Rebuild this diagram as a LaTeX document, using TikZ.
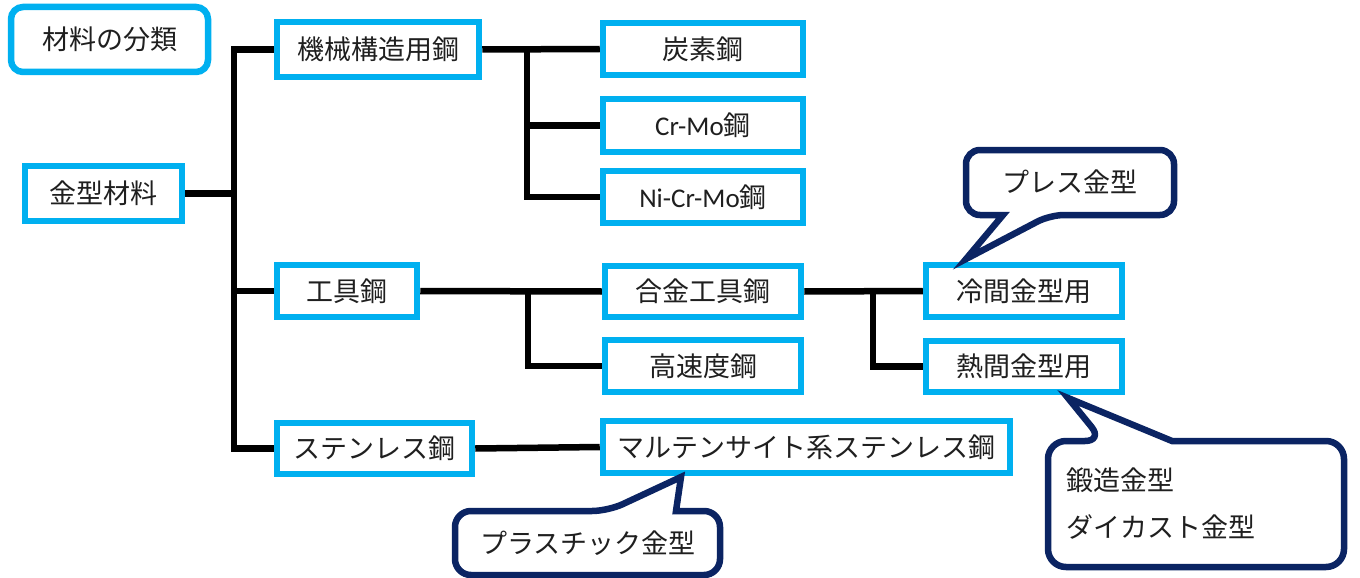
\documentclass[tikz,border=0pt]{standalone}
\usepackage{fontspec}
\setmainfont{Noto Sans CJK JP}
\newfontfamily\lat{Carlito}
\usetikzlibrary{backgrounds}
\definecolor{boxblue}{HTML}{00B0F0}
\definecolor{navy}{HTML}{0B2463}
\begin{document}
\begin{tikzpicture}[x=1pt,y=-1pt,
  box/.style={draw=boxblue,line width=6.5pt,fill=white,rectangle,inner sep=0pt,
    font=\fontsize{27}{32}\selectfont,text=black!88},
  conn/.style={line width=6.5pt,black},
  callout/.style={draw=navy,line width=6.5pt,fill=white,line join=miter},
  ctext/.style={inner sep=0pt,font=\fontsize{27}{32}\selectfont,text=black!88}]
\useasboundingbox (0,0) rectangle (1360,578);
% boxes
\node[box,minimum width=197pt,minimum height=65pt,rounded corners=12pt] (cls) at (109.5,39.5) {材料の分類};
\node[box,minimum width=157pt,minimum height=55pt] (kin) at (103.5,193.5) {金型材料};
\node[box,minimum width=202pt,minimum height=55pt] (kik) at (378,49.5) {機械構造用鋼};
\node[box,minimum width=200pt,minimum height=52pt] (tan) at (703,49) {炭素鋼};
\node[box,minimum width=200pt,minimum height=53pt] (crm) at (703,125.5) {{\lat Cr-Mo}鋼};
\node[box,minimum width=200pt,minimum height=52pt] (ncm) at (703,197) {{\lat Ni-Cr-Mo}鋼};
\node[box,minimum width=140pt,minimum height=52pt] (kog) at (347,291) {工具鋼};
\node[box,minimum width=196pt,minimum height=51pt] (gok) at (703,291.5) {合金工具鋼};
\node[box,minimum width=196pt,minimum height=52pt] (kos) at (703,366) {高速度鋼};
\node[box,minimum width=196pt,minimum height=52pt] (rei) at (1024,291) {冷間金型用};
\node[box,minimum width=196pt,minimum height=51pt] (net) at (1024,366.5) {熱間金型用};
\node[box,minimum width=195pt,minimum height=51pt] (sus) at (374.5,448.5) {ステンレス鋼};
\node[box,minimum width=407pt,minimum height=52pt] (mar) at (806.5,447) {マルテンサイト系ステンレス鋼};
% junction coordinates
\coordinate (tr) at (234,0);
\coordinate (j1) at (527,49.5);
\coordinate (j2) at (528,291);
\coordinate (j3) at (873,292);
\begin{scope}[on background layer]
\draw[conn] (kik.west) -| (tr |- sus.west) -- (sus.west);
\draw[conn] (kin.east) -- (tr |- kin.east);
\draw[conn] (kog.west) -- (tr |- kog.west);
\draw[conn] (kik.east) -- (tan.west);
\draw[conn] (j1) |- (ncm.west);
\draw[conn] (j1 |- crm.west) -- (crm.west);
\draw[conn] (kog.east) -- (gok.west);
\draw[conn] (j2) |- (kos.west);
\draw[conn] (gok.east) -- (rei.west);
\draw[conn] (j3) |- (net.west);
\draw[conn] (sus.east) -- (mar.west);
\end{scope}
% callouts
\draw[callout] (1070,150) [rounded corners=14pt] -- (1174,150) -- (1174,215) -- (1050,215) [sharp corners] -- (966,259) -- (1003,215) [rounded corners=14pt] -- (966,215) -- (966,150) -- cycle;
\node[ctext] (press) at (1070,182) {プレス金型};
\draw[callout] (1250,441) [rounded corners=18pt] -- (1344,441) -- (1344,567) -- (1048,567) -- (1048,441) -- (1103,441) [sharp corners] -- (1068,398) -- (1172,441) [rounded corners=18pt] -- cycle;
\node[ctext,anchor=west] (hot1) at (1066,480) {鍛造金型};
\node[ctext,anchor=west] (hot2) at (1066,527) {ダイカスト金型};
\draw[callout] (500,511) [rounded corners=16pt] -- (608,511) [sharp corners] -- (681,477) -- (676,511) [rounded corners=16pt] -- (720,511) -- (720,575) -- (455,575) -- (455,511) -- cycle;
\node[ctext] (plast) at (588,543) {プラスチック金型};
\end{tikzpicture}
\end{document}
